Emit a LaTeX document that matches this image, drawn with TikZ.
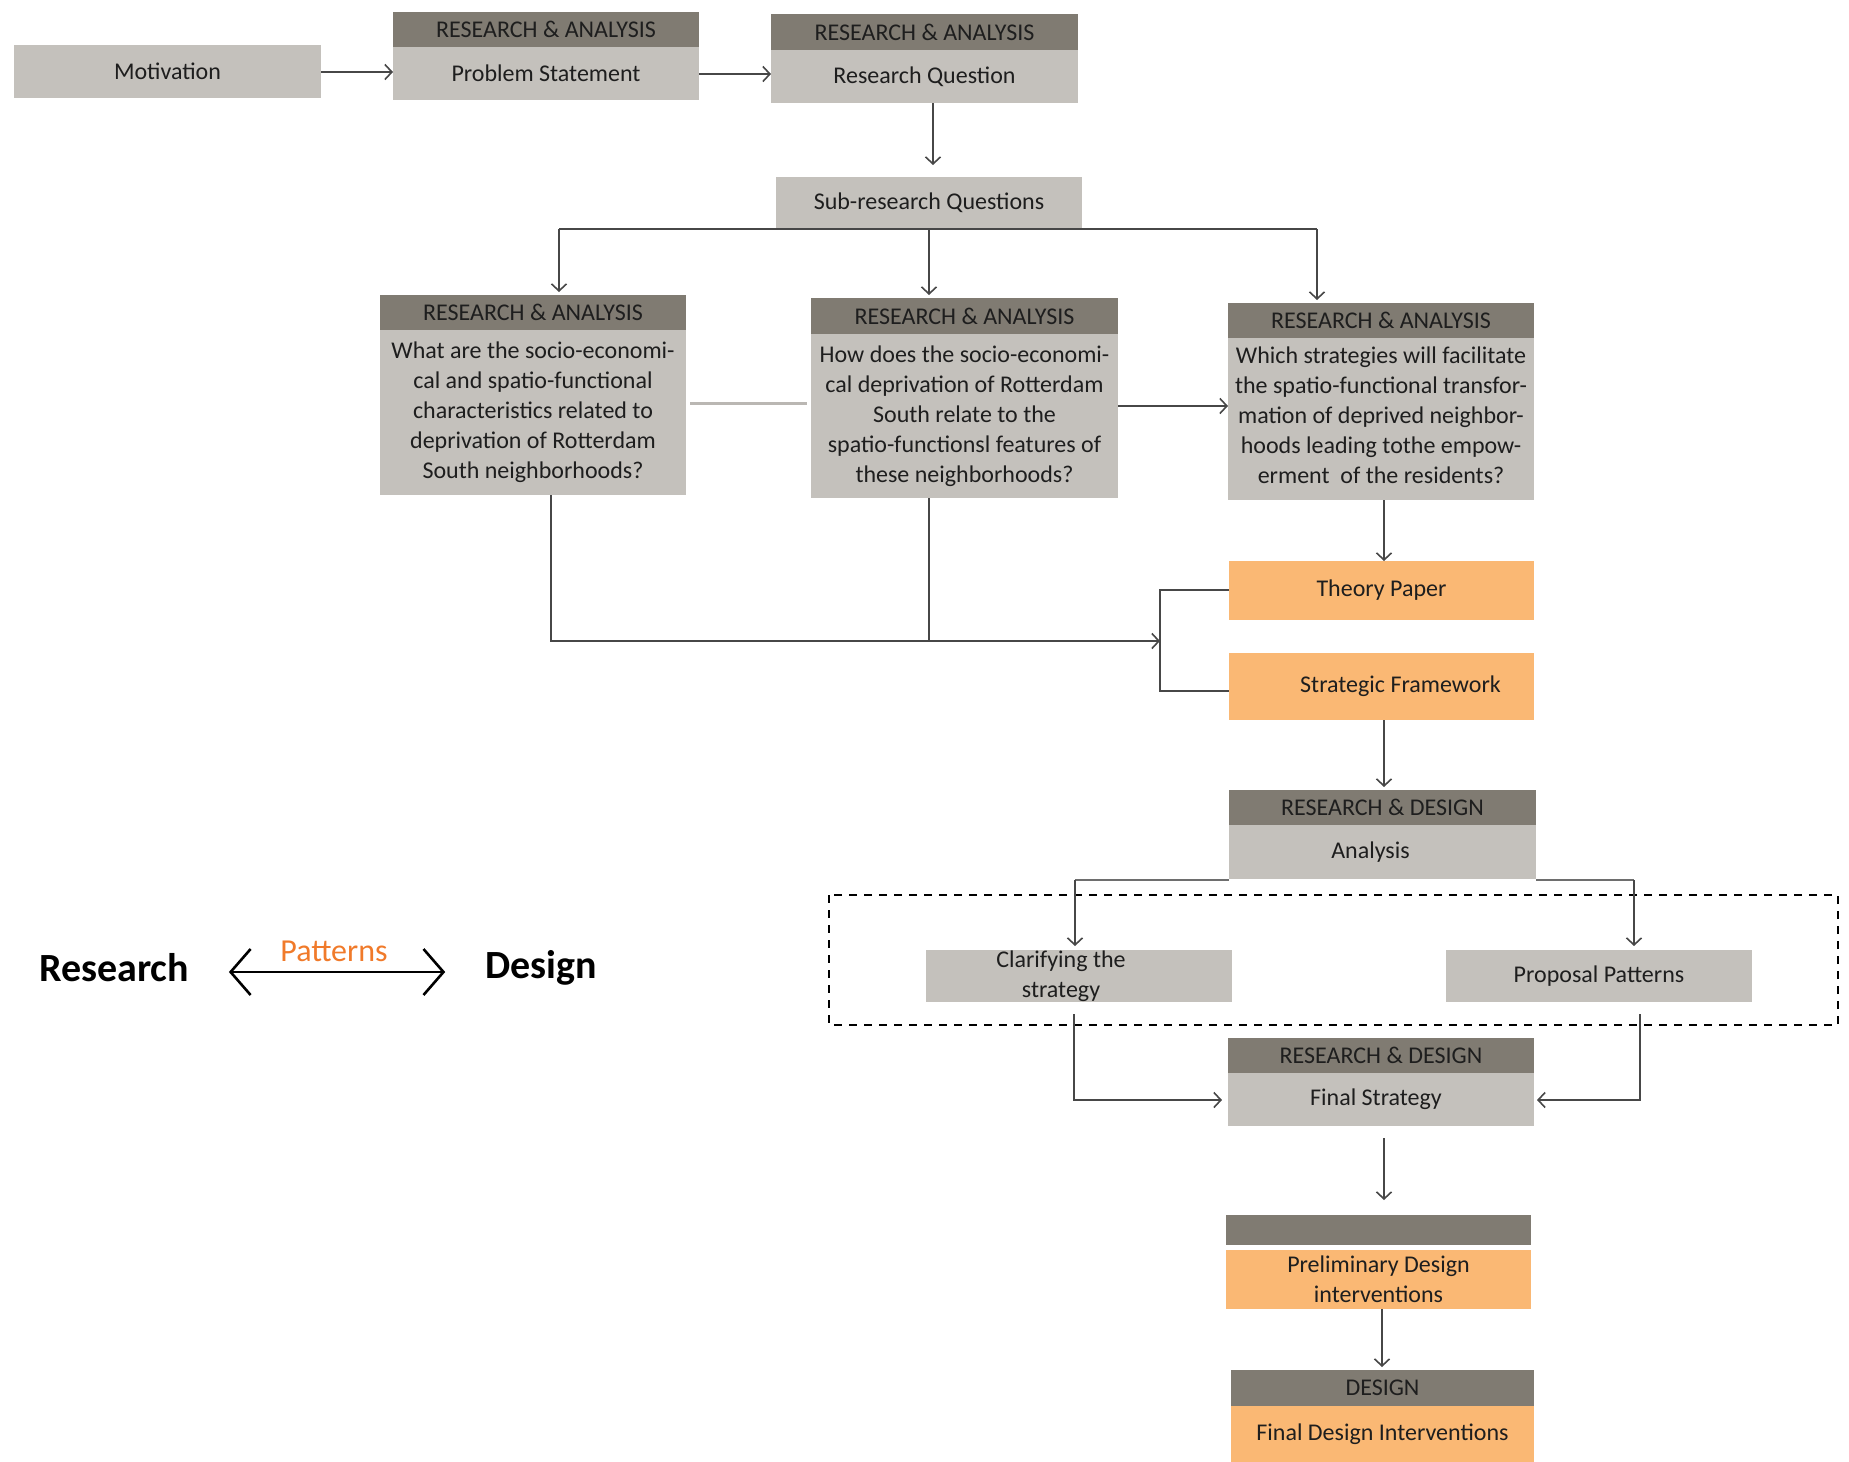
\documentclass[tikz,border=0pt]{standalone}
\usepackage{fontspec}
\setmainfont{Carlito}
\usetikzlibrary{arrows.meta,calc}
\definecolor{hdr}{HTML}{807B72}
\definecolor{bdy}{HTML}{C4C1BC}
\definecolor{org}{HTML}{FAB874}
\definecolor{ln}{HTML}{474747}
\definecolor{lnb}{HTML}{6E6E6E}
\definecolor{txt}{HTML}{1E1E1E}
\definecolor{pat}{HTML}{F07A2A}
\begin{document}
\begin{tikzpicture}[x=0.5pt,y=-0.5pt,
  every node/.style={inner sep=0pt, outer sep=0pt, text=txt, align=center,
    font=\fontsize{12}{15}\selectfont},
  blk/.style 2 args={minimum width=#1*0.5pt, minimum height=#2*0.5pt},
  hbox/.style={fill=hdr},
  gbox/.style={fill=bdy},
  obox/.style={fill=org},
  conn/.style={draw=ln, line width=0.8pt},
  connb/.style={draw=lnb, line width=1.1pt},
  tip/.style={-{Straight Barb[length=3.5pt,width=7.5pt]}},
]
\useasboundingbox (0,0) rectangle (1849,1462);

% top row
\node[gbox, blk={307}{53}] (mot) at (167.5,71.5) {Motivation};
\node[hbox, blk={306}{35}] (psH) at (546,29.5) {RESEARCH \& ANALYSIS};
\node[gbox, blk={306}{53}] (psB) at (546,73.5) {Problem Statement};
\node[hbox, blk={307}{36}] (rqH) at (924.5,32) {RESEARCH \& ANALYSIS};
\node[gbox, blk={307}{53}] (rqB) at (924.5,76.5) {Research Question};
\node[gbox, blk={306}{51}] (srq) at (929,202.5) {Sub-research Questions};

% sub-questions
\node[hbox, blk={306}{35}] (q1H) at (533,312.5) {RESEARCH \& ANALYSIS};
\node[gbox, blk={306}{165}] (q1B) at (533,412.5) {What are the socio-economi-\\cal and spatio-functional\\characteristics related to\\deprivation of Rotterdam\\South neighborhoods?};
\node[hbox, blk={307}{36}] (q2H) at (964.5,316) {RESEARCH \& ANALYSIS};
\node[gbox, blk={307}{164}] (q2B) at (964.5,416) {How does the socio-economi-\\cal deprivation of Rotterdam\\South relate to the\\spatio-functionsl features of\\these neighborhoods?};
\node[hbox, blk={306}{35}] (q3H) at (1381,320.5) {RESEARCH \& ANALYSIS};
\node[gbox, blk={306}{162}] (q3B) at (1381,419) {Which strategies will facilitate\\the spatio-functional transfor-\\mation of deprived neighbor-\\hoods leading tothe empow-\\erment\ \ of the residents?\rule[-4pt]{0pt}{0pt}};

% orange
\node[obox, blk={305}{59}] (tp) at (1381.5,590.5) {Theory Paper};
\node[obox, blk={305}{67}] (sf) at (1381.5,686.5) {\hspace*{19pt}Strategic Framework};

% research & design
\node[hbox, blk={307}{35}] (anH) at (1382.5,807.5) {RESEARCH \& DESIGN};
\node[gbox, blk={307}{54}] (anB) at (1382.5,852) {Analysis\hspace*{12pt}};
\node[gbox, blk={306}{52}] (cl) at (1079,976) {Clarifying the\hspace*{18pt}\\strategy\hspace*{18pt}};
\node[gbox, blk={306}{52}] (pp) at (1599,976) {Proposal Patterns};
\node[hbox, blk={306}{35}] (fsH) at (1381,1055.5) {RESEARCH \& DESIGN};
\node[gbox, blk={306}{53}] (fsB) at (1381,1099.5) {Final Strategy\hspace*{5pt}};
\node[hbox, blk={305}{30}] (prH) at (1378.5,1230) {};
\node[obox, blk={305}{59}] (prB) at (1378.5,1279.5) {Preliminary Design\\interventions};
\node[hbox, blk={303}{36}] (deH) at (1382.5,1388) {DESIGN};
\node[obox, blk={303}{56}] (deB) at (1382.5,1434) {Final Design Interventions};

% dashed frame
\draw[black, line width=1pt, dash pattern=on 4pt off 3.5pt] (829,895) rectangle (1838,1025);

% legend
\node[font=\fontsize{20}{24}\selectfont\bfseries, text=black] (res) at (114,968) {Research};
\node[font=\fontsize{20}{24}\selectfont\bfseries, text=black] (des) at (541,968) {Design};
\node[font=\fontsize{16}{19}\selectfont, text=pat] (patl) at (334,951) {Patterns};
\draw[black, line width=1.3pt, {Straight Barb[length=10pt,width=23pt]}-{Straight Barb[length=10pt,width=23pt]}]
  ($(res.east)+(40,4)$) -- ($(des.west)+(-40,4)$);

% connectors top
\draw[conn,tip] (mot.east |- 0,72) -- (psB.west |- 0,72);
\draw[conn,tip] (psB.east |- 0,74) -- (rqB.west |- 0,74);
\coordinate (rqd) at (933,165);
\draw[conn,tip] (rqd |- rqB.south) -- (rqd);

% tree
\coordinate (j1) at (559,229);
\coordinate (j2) at (929,229);
\coordinate (j3) at (1317,229);
\draw[conn] (j1) -- (j3);
\draw[conn,tip] (j1) -- ($(j1 |- q1H.north)+(0,-3)$);
\draw[conn,tip] (j2) -- ($(j2 |- q2H.north)+(0,-3)$);
\draw[conn,tip] (j3) -- ($(j3 |- q3H.north)+(0,-3)$);

% between questions
\draw[draw=bdy!85!gray, line width=1.5pt] ($(q1B.east |- 0,403)+(4,0)$) -- ($(q2B.west |- 0,403)+(-4,0)$);
\draw[conn,tip] (q2B.east |- 0,406) -- (q3B.west |- 0,406);

% to theory paper
\coordinate (q3d) at (1384,561);
\draw[conn,tip] (q3d |- q3B.south) -- (q3d);

% from q1, q2 down to bracket
\coordinate (k1) at (551,641);
\coordinate (k2) at (929,641);
\coordinate (k3) at (1160,641);
\draw[conn,tip] (k1 |- q1B.south) -- (k1) -- (k3);
\draw[conn] (k2 |- q2B.south) -- (k2);
\draw[conn] (tp.west |- 0,590) -- (1160,590) -- (1160,691) -- (sf.west |- 0,691);

% sf to analysis
\coordinate (sfd) at (1384,787);
\draw[conn,tip] (sfd |- sf.south) -- (sfd);

% analysis branches
\coordinate (b1) at (1075,880);
\coordinate (b2) at (1634,880);
\draw[connb] (anB.south west |- b1) -- (b1);
\draw[conn,tip] (b1) -- ($(b1 |- cl.north)+(0,-4)$);
\draw[connb] (anB.south east |- b2) -- (b2);
\draw[conn,tip] (b2) -- ($(b2 |- pp.north)+(0,-4)$);

% into final strategy
\coordinate (c1) at (1074,1100);
\coordinate (c2) at (1640,1100);
\draw[conn,tip] ($(c1 |- cl.south)+(0,12)$) -- (c1) -- ($(fsB.west |- c1)+(-6,0)$);
\draw[conn,tip] ($(c2 |- pp.south)+(0,12)$) -- (c2) -- ($(fsB.east |- c2)+(3,0)$);

% down chain
\coordinate (fd) at (1384,1200);
\draw[conn,tip] ($(fd |- fsB.south)+(0,12)$) -- (fd);
\coordinate (pd) at (1382,1367);
\draw[conn,tip] (pd |- prB.south) -- (pd);
\end{tikzpicture}
\end{document}
